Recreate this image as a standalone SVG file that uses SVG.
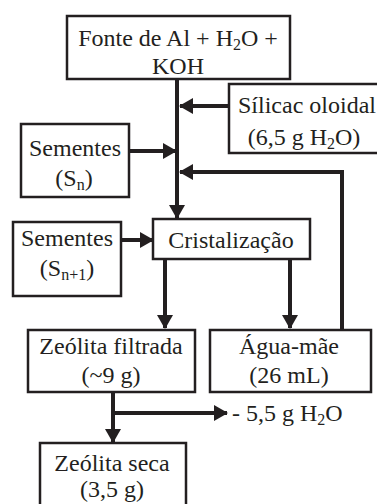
<svg xmlns="http://www.w3.org/2000/svg" width="377" height="504" viewBox="0 0 377 504">
<style>
.box{fill:#fff;stroke:#231f20;stroke-width:2.5}
.t{font-family:"Liberation Serif","Times New Roman",serif;font-size:24px;fill:#231f20;text-anchor:middle}
.s{font-size:16px}
.ln{stroke:#231f20;stroke-width:4;fill:none}
</style>
<defs>
<marker id="ah" markerWidth="14" markerHeight="16" refX="13" refY="8" orient="auto" markerUnits="userSpaceOnUse">
<path d="M0,0 L14,8 L0,16 Z" fill="#231f20"/>
</marker>
</defs>
<rect width="377" height="504" fill="#fff"/>
<g id="connectors">
<path class="ln" d="M177,79 V218" marker-end="url(#ah)"/>
<path class="ln" d="M229,106 H180" marker-end="url(#ah)"/>
<path class="ln" d="M129,151 H176" marker-end="url(#ah)"/>
<path class="ln" d="M342,330 V172 H180" marker-end="url(#ah)"/>
<path class="ln" d="M121,240 H153" marker-end="url(#ah)"/>
<path class="ln" d="M165,259 V328" marker-end="url(#ah)"/>
<path class="ln" d="M290,259 V328" marker-end="url(#ah)"/>
<path class="ln" d="M113,392 V442" marker-end="url(#ah)"/>
<path class="ln" d="M113,413 H227" marker-end="url(#ah)"/>
</g>
<g id="fonte">
<rect class="box" x="67" y="16" width="223" height="63"/>
<text class="t" x="178" y="46">Fonte de Al + H<tspan class="s" dy="4">2</tspan><tspan dy="-4">O +</tspan></text>
<text class="t" x="178" y="74">KOH</text>
</g>
<g id="silica">
<rect class="box" x="229" y="84" width="160" height="69"/>
<text class="t" x="307" y="113">Sílicac oloidal</text>
<text class="t" x="304" y="145">(6,5 g H<tspan class="s" dy="4">2</tspan><tspan dy="-4">O)</tspan></text>
</g>
<g id="sementes-n">
<rect class="box" x="21" y="124" width="108" height="73"/>
<text class="t" x="75" y="156">Sementes</text>
<text class="t" x="74" y="186">(S<tspan class="s" dy="4">n</tspan><tspan dy="-4">)</tspan></text>
</g>
<g id="cristalizacao">
<rect class="box" x="153" y="219" width="157" height="40"/>
<text class="t" x="231" y="248">Cristalização</text>
</g>
<g id="sementes-n1">
<rect class="box" x="13" y="222" width="108" height="74"/>
<text class="t" x="67" y="246">Sementes</text>
<text class="t" x="67" y="276">(S<tspan class="s" dy="4">n+1</tspan><tspan dy="-4">)</tspan></text>
</g>
<g id="zeolita-filtrada">
<rect class="box" x="28" y="330" width="167" height="62"/>
<text class="t" x="111" y="354">Zeólita filtrada</text>
<text class="t" x="111" y="383">(~9 g)</text>
</g>
<g id="agua-mae">
<rect class="box" x="210" y="330" width="161" height="62"/>
<text class="t" x="289" y="354">Água-mãe</text>
<text class="t" x="289" y="383">(26 mL)</text>
</g>
<g id="agua-removida">
<text class="t" x="232" y="421" style="text-anchor:start">- 5,5 g H<tspan class="s" dy="4">2</tspan><tspan dy="-4">O</tspan></text>
</g>
<g id="zeolita-seca">
<rect class="box" x="40" y="443" width="146" height="70"/>
<text class="t" x="112" y="471">Zeólita seca</text>
<text class="t" x="112" y="497">(3,5 g)</text>
</g>
</svg>
